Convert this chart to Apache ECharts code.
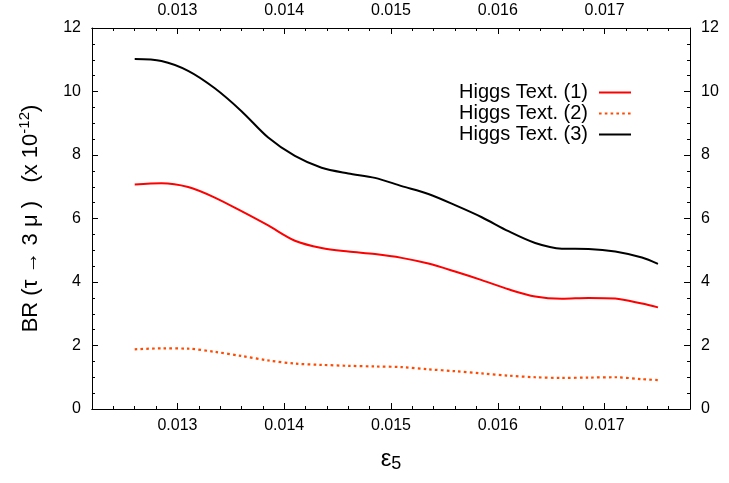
<!DOCTYPE html>
<html>
<head>
<meta charset="utf-8">
<script src="https://cdn.jsdelivr.net/npm/echarts@6/dist/echarts.min.js"></script>
<style>html,body{margin:0;padding:0;background:#fff}#c{width:729px;height:483px}</style>
</head>
<body>
<div id="c"></div>
<script>
var eps5 = [0.0126,0.01285,0.0131,0.01335,0.0136,0.01385,0.0141,0.01435,0.0146,0.01485,0.0151,0.01535,0.0156,0.01585,0.0161,0.01635,0.0166,0.01685,0.0171,0.01735,0.0175];
var higgs1 = [7.07,7.11,6.99,6.66,6.23,5.78,5.30,5.07,4.96,4.88,4.76,4.58,4.33,4.06,3.77,3.54,3.47,3.50,3.48,3.32,3.20];
var higgs2 = [1.88,1.91,1.90,1.80,1.67,1.53,1.43,1.39,1.36,1.34,1.32,1.25,1.19,1.12,1.05,1.00,0.98,0.99,1.00,0.94,0.91];
var higgs3 = [11.02,10.96,10.65,10.10,9.38,8.55,7.97,7.60,7.42,7.28,7.02,6.77,6.42,6.04,5.60,5.23,5.05,5.04,4.96,4.77,4.57];
var seriesNames = ['Higgs Text. (1)','Higgs Text. (2)','Higgs Text. (3)'];
var xMajorTicks = [0.013,0.014,0.015,0.016,0.017];
var xMin = 0.0122, xMax = 0.0178;

var xMinorTicks = [];
for (var i = 0; i <= 28; i++) xMinorTicks.push(+(xMin + i*0.0002).toFixed(5));

var FONT = 'Liberation Sans, Arial, sans-serif';
function pairs(ys){ return eps5.map(function(x,i){ return [x, ys[i]]; }); }

function xAx(grid, pos, major){
  return {
    type:'value', gridIndex:grid, position: pos, min:xMin, max:xMax,
    axisLine:{show:true, onZero:false, lineStyle:{color:'#000', width:1}},
    splitLine:{show:false},
    axisTick:{show:true, inside:true, length: major?6:3, customValues: major?xMajorTicks:xMinorTicks, lineStyle:{color:'#000', width:1}},
    axisLabel:{show: major, customValues: xMajorTicks, color:'#000', fontSize:16, fontFamily:FONT, margin:9,
      formatter:function(v){ return v.toFixed(3); }}
  };
}
function yAx(grid, pos, show){
  return {
    type:'value', gridIndex:grid, position:pos, min:0, max:12, interval:2, show:show,
    axisLine:{show:true, onZero:false, lineStyle:{color:'#000', width:1}},
    splitLine:{show:false},
    axisTick:{show:true, inside:true, length:6, lineStyle:{color:'#000', width:1}},
    minorTick:{show:true, splitNumber:4, length:3, lineStyle:{color:'#000', width:1}},
    axisLabel:{color:'#000', fontSize:16, fontFamily:FONT, margin:11}
  };
}

var chart = echarts.init(document.getElementById('c'), null, {renderer:'canvas'});
var yLeft = yAx(0, 'left', true);
yLeft.name = '{t|BR (τ → 3 μ )   (x 10}{s|-12}{t|)}';
yLeft.nameLocation = 'middle';
yLeft.nameRotate = 90;
yLeft.nameGap = 48;
yLeft.nameTextStyle = {fontFamily:FONT, color:'#000', rich:{
  t:{fontSize:22, fontFamily:FONT, color:'#000'},
  s:{fontSize:15, fontFamily:FONT, color:'#000', padding:[0,0,12,0]}
}};
var xBottom = xAx(0, 'bottom', true);
xBottom.name = '{e|ε}{s|5}';
xBottom.nameLocation = 'middle';
xBottom.nameGap = 38;
xBottom.nameTextStyle = {rich:{
  e:{fontSize:24, fontFamily:FONT, color:'#000'},
  s:{fontSize:18, fontFamily:FONT, color:'#000', padding:[0,0,-10,0]}
}};

var gridBox = {left:92, right:39, top:28, bottom:74, containLabel:false};
chart.setOption({
  animation:false,
  backgroundColor:'#fff',
  grid:[gridBox, Object.assign({}, gridBox)],
  xAxis:[xBottom, xAx(0, 'top', true), xAx(1, 'bottom', false), xAx(1, 'top', false)],
  yAxis:[yLeft, yAx(0, 'right', true), yAx(1, 'left', false)],
  legend:{
    orient:'vertical', right:92, top:77, align:'right',
    itemWidth:32, itemHeight:14, itemGap:0,
    itemStyle:{opacity:0},
    textStyle:{fontSize:20, fontFamily:FONT, color:'#000', lineHeight:21, padding:[0,6,0,0]},
    data: seriesNames
  },
  series:[
    {name:seriesNames[0], type:'line', xAxisIndex:0, yAxisIndex:0, data:pairs(higgs1), smooth:0.3, symbol:'none',
      lineStyle:{color:'#ff0000', width:2}, itemStyle:{color:'#ff0000'}},
    {name:seriesNames[1], type:'line', xAxisIndex:0, yAxisIndex:0, data:pairs(higgs2), smooth:0.3, symbol:'none',
      lineStyle:{color:'#ff4a00', width:2.2, type:[2.6,3.2]}, itemStyle:{color:'#ff4a00'}},
    {name:seriesNames[2], type:'line', xAxisIndex:0, yAxisIndex:0, data:pairs(higgs3), smooth:0.3, symbol:'none',
      lineStyle:{color:'#000000', width:2}, itemStyle:{color:'#000000'}}
  ]
});
</script>
</body>
</html>
